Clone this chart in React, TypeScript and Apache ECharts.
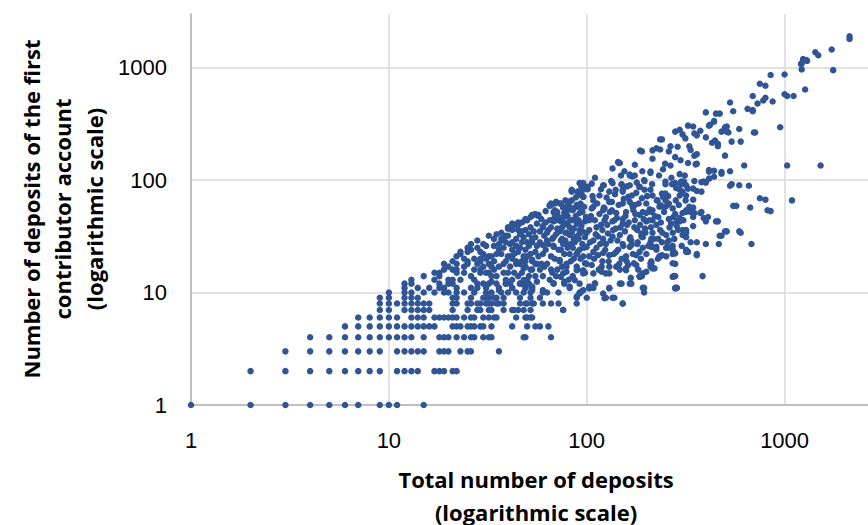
import { useEffect, useRef } from "react";
import * as echarts from "echarts";

const X_TITLE = "Total number of deposits\n(logarithmic scale)";
const Y_TITLE = "Number of deposits of the first\ncontributor account\n(logarithmic scale)";
const AXIS_MIN = 1;
const AXIS_MAX = 3000;

// Integer lattice at the low end: for each y value, the x values that occur
const latticeY = [1, 2, 3, 4, 5, 6, 7, 8, 9, 10, 11, 12];
const latticeX = [
  [1, 2, 3, 4, 5, 6, 7, 9, 10, 11, 15],
  [2, 3, 4, 5, 6, 7, 8, 9, 11, 12, 13, 14, 17, 18, 19, 21, 22],
  [3, 4, 5, 6, 7, 8, 9, 11, 12, 13, 14, 15, 18, 19, 20, 23, 25, 26, 36],
  [4, 5, 6, 7, 8, 9, 10, 11, 12, 13, 15, 18, 19, 20, 22, 24, 26, 27, 30, 32, 33, 48, 49, 66],
  [6, 7, 8, 9, 10, 11, 12, 13, 14, 15, 16, 17, 21, 22, 23, 25, 26, 27, 29, 30, 33, 42, 50, 55, 58, 64],
  [7, 8, 9, 10, 11, 13, 14, 15, 17, 18, 19, 20, 21, 22, 24, 26, 27, 30, 32, 34, 35, 44, 49, 50, 52, 53],
  [9, 10, 12, 13, 14, 15, 16, 21, 25, 28, 29, 32, 33, 38, 42, 43, 45, 48, 52, 76],
  [9, 10, 11, 12, 13, 14, 15, 16, 21, 22, 25, 26, 28, 29, 31, 32, 33, 35, 36, 38, 46, 49, 50, 53, 54, 60, 66, 72, 89, 152],
  [9, 10, 12, 13, 14, 21, 22, 26, 30, 31, 32, 34, 35, 38, 46, 52, 58, 89, 100, 125, 138],
  [10, 12, 13, 15, 17, 19, 20, 22, 24, 27, 31, 33, 37, 40, 44, 48, 52, 60, 63, 72, 92, 195],
  [12, 14, 16, 18, 19, 22, 26, 28, 31, 36, 42, 49, 53, 82, 103, 108, 130, 192, 280, 285],
  [12, 13, 18, 20, 21, 28, 32, 39, 41, 46, 47, 49, 51, 68, 77, 92, 110, 147, 150, 165, 168],
];

// Cloud between roughly 10 and 100 total deposits
const lowerCloud: [number, number][] = [
  [32, 32], [35, 33], [39, 32], [42, 28], [44, 26], [55, 31], [53, 28], [56, 26], [25, 25], [25, 23],
  [23, 22], [22, 21], [34, 26], [35, 22], [32, 21], [29, 23], [29, 19], [25, 19], [25, 18], [22, 18],
  [19, 16], [18, 15], [18, 14], [21, 16], [22, 15], [24, 15], [21, 13], [23, 13], [15, 14], [13, 13],
  [17, 13], [27, 16], [29, 16], [32, 15], [34, 16], [32, 18], [39, 19], [38, 18], [41, 17], [44, 18],
  [42, 20], [47, 19], [48, 21], [52, 22], [55, 18], [49, 17], [47, 15], [51, 14], [55, 14], [42, 13],
  [38, 15], [35, 14], [20, 13], [22, 16], [23, 23], [26, 24], [24, 20], [29, 20], [33, 21], [33, 17],
  [31, 15], [29, 15], [38, 29], [39, 28], [40, 37], [43, 40], [45, 40], [42, 24], [41, 21], [44, 19],
  [46, 18], [50, 44], [52, 47], [55, 50], [57, 49], [49, 36], [53, 30], [51, 26], [49, 19], [53, 19],
  [56, 18], [60, 38], [61, 32], [68, 31], [65, 60], [69, 62], [68, 52], [70, 44], [74, 43], [77, 51],
  [81, 61], [84, 79], [92, 94], [94, 79], [96, 71], [87, 45], [89, 41], [84, 34], [92, 36], [98, 31],
  [68, 26], [74, 24], [77, 22], [60, 22], [63, 18], [66, 21], [73, 19], [79, 18], [89, 22], [96, 21],
  [100, 18], [56, 12.5], [60, 14], [65, 13], [70, 14], [77, 12.5], [85, 14], [96, 10.5], [33, 12.5], [35, 12],
  [36, 10.5], [39, 12], [42, 11], [46, 12], [49, 11], [53, 10.5], [49, 45], [54, 49], [57, 48], [42, 41],
  [44, 40], [45, 42], [40, 38], [40, 32], [68, 45], [69, 49], [90, 79], [81, 64], [66, 62], [70, 64],
  [73, 62], [76, 57], [85, 56], [89, 58], [53, 49], [49, 44], [60, 39], [68, 43], [76, 47], [84, 44],
  [64, 36], [73, 35], [82, 32.5], [92, 33.5], [50, 28], [55, 23], [53, 19.5], [60, 26.5], [68, 25.5], [76, 27],
  [85, 25], [90, 23], [48, 16.4], [53, 16], [59, 18], [66, 16], [73, 19.5], [79, 15.3], [89, 17], [96, 14.8],
  [48, 12.9], [53, 11.3], [60, 10.5], [68, 12.1], [74, 13.8], [82, 11.3], [87, 12.9], [92, 9.8], [66, 60], [74, 62],
  [69, 54], [79, 52], [89, 60], [92, 51], [90, 73], [84, 82], [30, 27], [28, 25], [37, 30], [36, 24],
  [27, 20], [31, 26], [46, 33], [47, 28], [58, 35], [62, 42], [63, 29], [71, 37], [78, 29], [80, 40],
  [86, 30], [95, 27], [58, 16], [71, 16], [75, 30], [83, 19], [94, 39], [97, 58], [62, 24], [45, 23],
  [17, 15], [19, 18], [20, 17], [21, 19], [24, 17], [26, 14], [27, 13], [28, 18], [30, 12], [30, 17],
  [31, 20], [33, 14], [34, 19], [36, 17], [36, 27], [37, 22], [38, 25], [39, 13], [40, 15], [40, 21],
  [41, 27], [43, 15], [43, 22], [44, 30], [45, 14], [46, 25], [47, 35], [48, 31], [49, 24], [50, 21],
  [50, 13], [51, 33], [52, 16], [52, 38], [26, 27], [28, 29], [30, 22], [34, 30], [37, 34], [42, 36],
  [45, 36], [47, 42], [54, 35], [56, 41], [57, 21], [58, 28], [59, 45], [61, 17], [62, 53], [63, 34],
  [64, 27], [65, 44], [66, 38], [67, 15], [67, 30], [69, 20], [70, 33], [71, 52], [72, 24], [72, 47],
  [74, 29], [75, 38], [75, 17], [77, 42], [78, 34], [78, 66], [80, 25], [80, 48], [81, 13], [82, 38],
  [83, 27], [83, 55], [84, 66], [86, 20], [86, 37], [87, 28], [88, 48], [88, 70], [90, 16], [91, 30],
  [91, 44], [93, 20], [93, 62], [95, 52], [95, 35], [97, 25], [97, 84], [98, 15], [99, 47], [79, 27],
  [89, 22], [76, 14.8], [85, 13.8], [96, 15.8], [94, 10.2], [89, 9.2], [76, 7],
];

// Cloud between roughly 100 and 1000 total deposits
const middleCloud: [number, number][] = [
  [94, 87], [106, 93], [121, 90], [135, 94], [150, 92], [165, 90], [196, 98], [250, 97], [280, 94], [300, 97],
  [101, 83], [116, 73], [130, 79], [152, 79], [178, 77], [215, 73], [240, 76], [295, 82], [318, 73], [106, 56],
  [123, 56], [141, 51], [158, 52], [171, 58], [192, 52], [212, 52], [233, 58], [256, 60], [282, 66], [318, 54],
  [98, 43], [110, 44], [123, 44], [135, 43], [152, 41], [175, 44], [200, 43], [225, 40], [267, 41], [295, 43],
  [318, 36], [103, 36], [114, 31.5], [128, 33.5], [147, 32.5], [165, 30], [189, 33.5], [212, 30], [252, 32.5], [305, 32.5],
  [100, 25.5], [112, 25], [125, 27], [141, 23], [165, 25.5], [185, 23], [212, 25.5], [240, 21.5], [275, 23], [318, 24],
  [106, 17.6], [119, 15.3], [130, 17], [147, 16], [162, 17.6], [182, 16], [212, 18.2], [233, 21], [272, 18.2], [272, 13.8],
  [280, 10.9], [103, 10.9], [110, 12.1], [121, 9.8], [130, 10.9], [152, 8], [167, 13.5], [108, 58], [122, 57], [134, 54],
  [79, 58], [85, 54], [92, 58], [108, 66], [121, 54], [134, 64], [82, 44], [92, 41], [103, 44], [112, 38],
  [125, 47], [138, 44], [152, 45], [172, 54], [185, 49], [200, 51], [215, 44], [79, 34], [89, 31.5], [100, 34],
  [108, 29], [121, 30], [135, 31.5], [152, 27], [168, 29], [189, 31.5], [210, 27], [82, 22], [92, 24], [103, 21],
  [114, 21.5], [130, 21.5], [144, 24], [158, 21], [178, 21.5], [200, 22], [225, 24], [252, 21], [272, 22], [79, 17],
  [89, 15.8], [98, 18.2], [119, 17], [130, 14.8], [141, 17], [158, 15.8], [173, 18.2], [192, 14.8], [220, 16.4], [145, 142],
  [135, 127], [155, 120], [165, 112], [170, 108], [175, 137], [210, 116], [243, 125], [295, 113], [265, 135], [325, 142],
  [355, 138], [415, 123], [440, 107], [480, 118], [530, 120], [530, 89], [660, 89], [350, 98], [400, 95], [380, 96],
  [360, 80], [345, 84], [300, 92], [310, 97], [270, 92], [250, 92], [295, 73], [260, 62], [250, 58], [235, 60],
  [185, 87], [195, 100], [165, 64], [150, 91], [122, 90], [110, 105], [101, 87], [96, 94], [94, 76], [144, 145],
  [147, 142], [186, 183], [210, 119], [165, 110], [175, 110], [185, 87], [196, 82], [210, 82], [190, 69], [152, 82],
  [162, 71], [170, 60], [175, 60], [140, 82], [152, 62], [130, 64], [84, 80], [96, 71], [81, 64], [65, 59],
  [76, 57], [89, 58], [215, 184], [225, 192], [235, 187], [240, 230], [215, 155], [280, 160], [288, 198], [280, 270],
  [295, 280], [305, 255], [315, 235], [325, 305], [345, 300], [350, 260], [375, 275], [330, 200], [350, 165], [360, 140],
  [265, 200], [190, 180], [260, 180], [335, 185], [360, 170], [400, 240], [430, 215], [460, 200], [500, 165], [625, 135],
  [1030, 135], [1520, 135], [750, 69], [800, 67], [1090, 66], [820, 54], [850, 53], [670, 57], [550, 59], [570, 59],
  [600, 34], [680, 27], [510, 35], [480, 32], [450, 43], [400, 43], [390, 46], [400, 27], [465, 27], [360, 22],
  [385, 14], [325, 23], [275, 14], [280, 18], [235, 21], [210, 17], [190, 14], [375, 51], [350, 51], [335, 52],
  [345, 39], [295, 46], [285, 43], [380, 52], [285, 11], [195, 11], [185, 14], [212, 19], [260, 25], [272, 24],
  [318, 31], [335, 28], [360, 28], [410, 47], [345, 47], [330, 58], [318, 52], [285, 39], [305, 36], [318, 34],
  [272, 34], [260, 29], [272, 26], [235, 36], [215, 34], [210, 28], [222, 25], [192, 31], [197, 37], [207, 44],
  [215, 54], [243, 58], [250, 66], [243, 71], [250, 76], [272, 56], [305, 51], [305, 79], [325, 84], [318, 90],
  [345, 67], [345, 57], [380, 79], [390, 97], [415, 103], [480, 114], [460, 210], [540, 220], [440, 121], [415, 119],
  [460, 43], [470, 32], [500, 35], [590, 35], [540, 92], [590, 90], [160, 40], [180, 36], [230, 47], [260, 45],
  [140, 37], [118, 40], [200, 62], [228, 66], [280, 50], [180, 27], [240, 28], [150, 20], [120, 19], [230, 30],
  [104, 28], [105, 48], [107, 72], [109, 20], [111, 33], [113, 62], [115, 16], [116, 50], [117, 27], [118, 83],
  [120, 36], [124, 24], [126, 70], [127, 40], [129, 19], [131, 52], [132, 29], [133, 98], [136, 36], [137, 22],
  [139, 75], [142, 46], [143, 29], [145, 60], [146, 18], [148, 38], [149, 110], [153, 26], [154, 68], [156, 35],
  [157, 48], [159, 19], [160, 88], [163, 42], [166, 31], [169, 73], [171, 22], [174, 38], [176, 50], [179, 95],
  [181, 28], [183, 62], [186, 40], [188, 20], [191, 120], [194, 45], [198, 34], [202, 72], [205, 26], [208, 55],
  [211, 38], [214, 92], [218, 30], [221, 48], [226, 66], [229, 20], [232, 110], [237, 42], [241, 34], [246, 52],
  [249, 140], [255, 28], [258, 72], [262, 38], [268, 105], [274, 47], [277, 30], [283, 85], [290, 36], [292, 60],
  [298, 150], [302, 26], [308, 44], [313, 110], [316, 66], [108, 23], [121, 22.5], [168, 26.5], [192, 25], [225, 25.5],
  [252, 25], [280, 22.3], [318, 23], [360, 21.5], [108, 14.8], [125, 14.8], [158, 16.4], [178, 17.6], [210, 18.2], [280, 14],
  [123, 8.9], [135, 9], [185, 13.8], [200, 15.3], [215, 16.4], [103, 11.3],
];

// Sparse upper tail above roughly 1000 first-account deposits
const upperCloud: [number, number][] = [
  [2130, 1900], [2130, 1800], [1730, 1450], [1760, 950], [1430, 1370], [1480, 1290], [1240, 1190], [1300, 1150], [1220, 1090], [1220, 965],
  [1270, 640], [1000, 870], [850, 860], [750, 720], [800, 690], [690, 560], [800, 540], [780, 510], [870, 500], [1000, 580],
  [1030, 560], [1110, 560], [730, 480], [650, 430], [690, 410], [530, 490], [550, 410], [400, 400], [450, 390], [470, 390],
  [440, 335], [500, 295], [590, 285], [510, 270], [480, 270], [710, 265], [950, 295], [420, 310], [360, 250], [235, 230],
  [600, 220], [520, 265], [510, 300], [440, 330], [415, 305], [690, 420], [700, 265], [1210, 1080], [1290, 1170], [445, 225],
];

function buildPoints(): [number, number][] {
  const pts: [number, number][] = [];
  latticeY.forEach((y, i) => latticeX[i].forEach((x) => pts.push([x, y])));
  return pts.concat(lowerCloud, middleCloud, upperCloud);
}

export default function App() {
  const ref = useRef<HTMLDivElement>(null);
  useEffect(() => {
    if (!ref.current) return;
    const chart = echarts.init(ref.current, undefined, { renderer: "svg" });
    const labelStyle = {
      fontFamily: "Liberation Sans",
      fontSize: 22,
      color: "#000",
      formatter: (v: number) => String(Math.round(v)),
    };
    chart.setOption({
      animation: false,
      backgroundColor: "#fff",
      grid: {
        left: 191,
        top: 14,
        width: 688,
        height: 391,
        containLabel: false,
        outerBoundsMode: "none",
      },
      xAxis: {
        type: "log",
        logBase: 10,
        min: AXIS_MIN,
        max: AXIS_MAX,
        axisLine: { show: true, lineStyle: { color: "#bfbfbf", width: 2 } },
        axisTick: { show: false },
        axisLabel: { ...labelStyle, margin: 24, showMaxLabel: false },
        splitLine: { show: true, showMaxLine: false, lineStyle: { color: "#d9d9d9", width: 1.5 } },
      },
      yAxis: {
        type: "log",
        logBase: 10,
        min: AXIS_MIN,
        max: AXIS_MAX,
        axisLine: { show: true, lineStyle: { color: "#bfbfbf", width: 2 } },
        axisTick: { show: false },
        axisLabel: { ...labelStyle, margin: 24, showMaxLabel: false },
        splitLine: { show: true, showMaxLine: false, lineStyle: { color: "#d9d9d9", width: 1.5 } },
      },
      graphic: [
        {
          type: "text",
          x: 536,
          y: 495,
          style: {
            text: X_TITLE,
            align: "center",
            verticalAlign: "middle",
            font: "bold 22px 'Open Sans'",
            lineHeight: 33,
            fill: "#000",
          },
        },
        {
          type: "text",
          x: 62,
          y: 209,
          rotation: Math.PI / 2,
          style: {
            text: Y_TITLE,
            align: "center",
            verticalAlign: "middle",
            font: "bold 22px 'Open Sans'",
            lineHeight: 31.5,
            fill: "#000",
          },
        },
      ],
      series: [
        {
          type: "scatter",
          data: buildPoints(),
          symbol: "circle",
          symbolSize: 6.5,
          itemStyle: { color: "#2F5597", opacity: 1 },
        },
      ],
    });
    return () => chart.dispose();
  }, []);
  return (
    <div
      ref={ref}
      style={{ position: "fixed", left: 0, top: 0, width: 868, height: 525 }}
    />
  );
}
